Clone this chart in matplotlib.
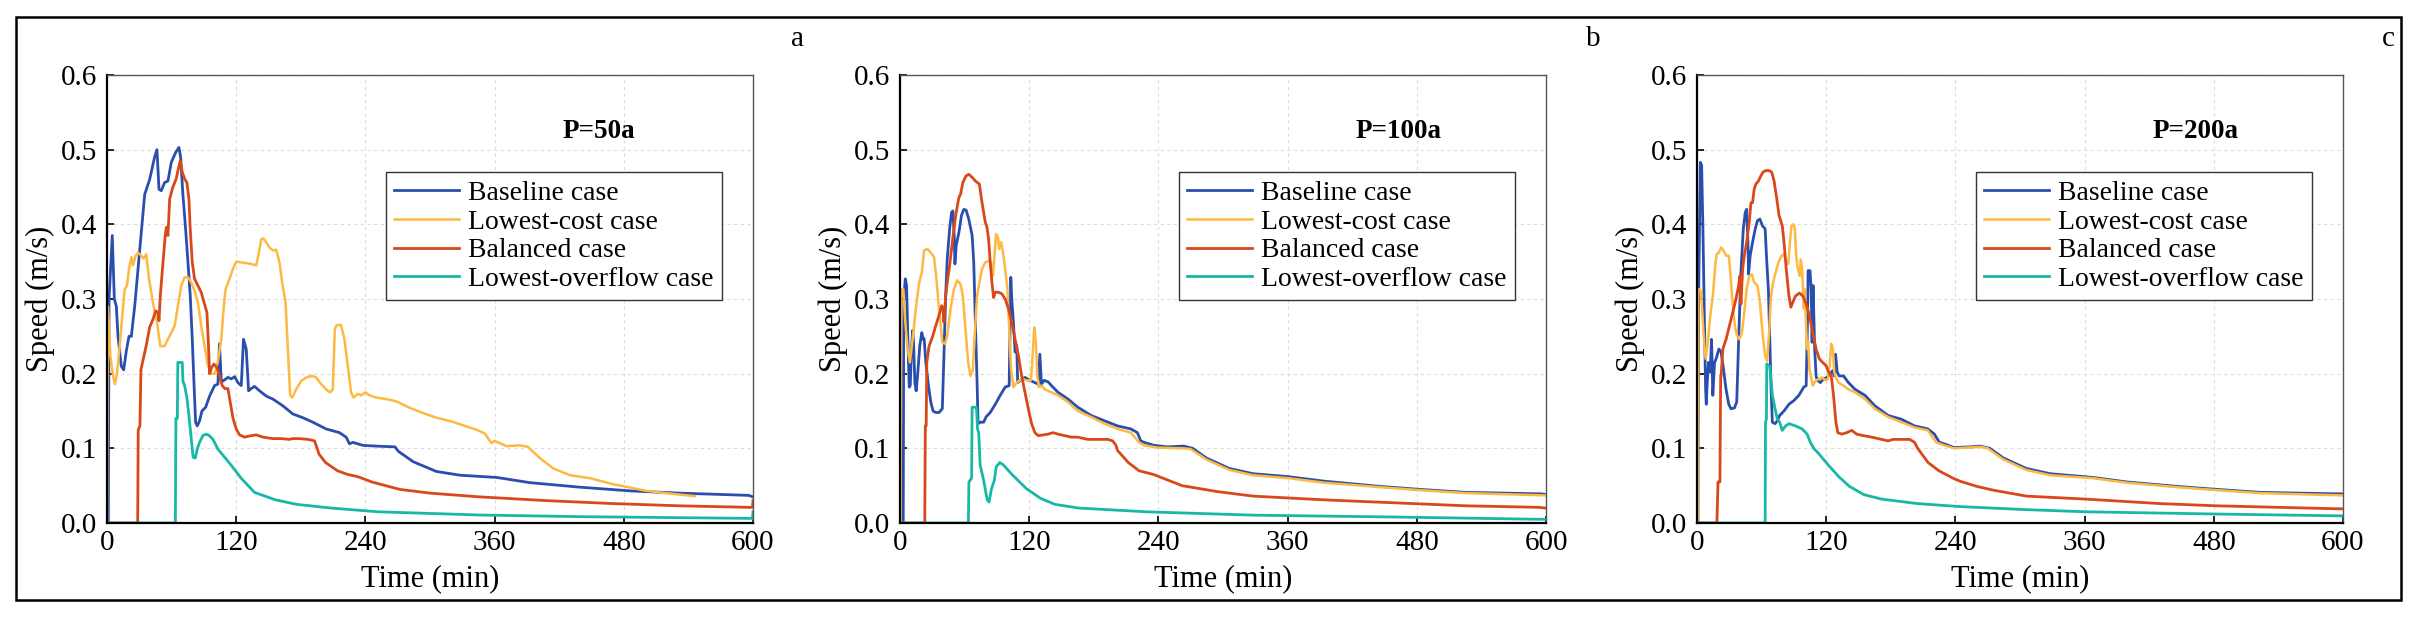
import matplotlib
matplotlib.use("Agg")
import matplotlib.pyplot as plt
from matplotlib.patches import Rectangle

plt.rcParams['font.family'] = ['Liberation Serif', 'DejaVu Serif']

# (time in min, speed in m/s)
p50_baseline = [(0, 0), (1.2, 0), (1.9, 0.30), (4.9, 0.385), (6.8, 0.30), (8.7, 0.29), (10.2, 0.25), (13.3, 0.21),
                (15.5, 0.205), (17.9, 0.23), (20.4, 0.25), (22.6, 0.25), (25.7, 0.29), (28.8, 0.34), (31.9, 0.39),
                (35.0, 0.44), (39.6, 0.46), (44.2, 0.49), (46.4, 0.50), (48.3, 0.447), (50.4, 0.445), (53.5, 0.456),
                (56.6, 0.458), (59.7, 0.483), (63.7, 0.496), (66.8, 0.503), (68.4, 0.49), (70.5, 0.44), (73.0, 0.394),
                (75.2, 0.349), (77.3, 0.305), (79.2, 0.246), (81.0, 0.18), (82.3, 0.135), (83.8, 0.13), (86.0, 0.137),
                (88.2, 0.15), (91.6, 0.155), (95.3, 0.17), (99.9, 0.184), (103.0, 0.186), (104.5, 0.24), (106.1, 0.19),
                (107.6, 0.19), (112.3, 0.195), (115.4, 0.193), (118.5, 0.196), (121.6, 0.188), (124.7, 0.184),
                (126.8, 0.246), (129.3, 0.233), (131.5, 0.177), (133.9, 0.18), (137.0, 0.183), (141.7, 0.177),
                (147.9, 0.17), (154.0, 0.166), (163.3, 0.157), (172.6, 0.146), (181.9, 0.141), (191.2, 0.135),
                (203.5, 0.126), (215.9, 0.121), (222.1, 0.115), (225.2, 0.106), (228.3, 0.108), (237.5, 0.104),
                (249.9, 0.103), (267.5, 0.102), (270.6, 0.096), (284.5, 0.082), (306, 0.069), (328, 0.064),
                (362, 0.061), (393, 0.054), (439, 0.048), (486, 0.043), (532, 0.040), (596, 0.037), (600, 0.035)]
p50_lowcost = [(0, 0), (0.9, 0.29), (3.1, 0.224), (5.6, 0.197), (7.4, 0.186), (9.3, 0.2), (11.8, 0.237), (14.2, 0.278),
               (16.4, 0.313), (18.6, 0.318), (20.4, 0.34), (22.6, 0.356), (24.1, 0.345), (26.6, 0.358), (28.8, 0.362),
               (31.9, 0.358), (34.0, 0.354), (36.5, 0.36), (39.0, 0.327), (42.7, 0.295), (46.4, 0.269), (49.5, 0.237),
               (53.5, 0.237), (56.6, 0.246), (59.7, 0.255), (62.8, 0.264), (65.9, 0.291), (69.0, 0.318), (72.1, 0.329),
               (75.2, 0.329), (78.3, 0.322), (81.3, 0.311), (84.4, 0.296), (87.5, 0.264), (90.6, 0.238), (93.7, 0.211),
               (96.8, 0.2), (99.9, 0.2), (103.0, 0.216), (106.1, 0.246), (108.3, 0.287), (110.1, 0.313), (113.8, 0.327),
               (116.9, 0.34), (120.0, 0.35), (124.7, 0.349), (129.3, 0.348), (133.9, 0.347), (138.6, 0.345),
               (141.0, 0.362), (143.2, 0.38), (145.4, 0.381), (147.9, 0.376), (150.9, 0.369), (154.0, 0.365),
               (157.1, 0.366), (160.2, 0.349), (162.7, 0.322), (165.8, 0.296), (168.0, 0.233), (170.1, 0.171),
               (172.0, 0.168), (175.7, 0.179), (180.3, 0.19), (185.0, 0.195), (190.5, 0.197), (194.2, 0.195),
               (198.9, 0.186), (203.5, 0.179), (207.2, 0.175), (209.7, 0.179), (211.6, 0.26), (213.4, 0.265),
               (217.4, 0.265), (220.5, 0.246), (223.6, 0.211), (226.7, 0.175), (228.9, 0.168), (232.9, 0.173),
               (236.0, 0.171), (240.0, 0.175), (243.7, 0.171), (249.9, 0.168), (259.2, 0.166), (268.5, 0.163),
               (280, 0.155), (294, 0.147), (306, 0.141), (320, 0.136), (343, 0.125), (350.8, 0.12), (357, 0.107),
               (360, 0.11), (371, 0.103), (383.6, 0.104), (391, 0.102), (402, 0.087), (414.6, 0.073), (430, 0.064),
               (448.6, 0.06), (470, 0.052), (501, 0.043), (532, 0.038), (546, 0.036)]
p50_balanced = [(0, 0), (28.5, 0), (29.0, 0.125), (30.6, 0.13), (31.5, 0.205), (31.9, 0.208), (36.5, 0.238),
                (39.6, 0.262), (42.7, 0.273), (45.2, 0.284), (47.3, 0.282), (48.3, 0.271), (49.5, 0.304), (52.0, 0.349),
                (54.1, 0.385), (55.1, 0.396), (56.6, 0.385), (58.2, 0.434), (61.2, 0.45), (64.3, 0.461), (65.9, 0.472),
                (68.0, 0.485), (69.9, 0.47), (72.1, 0.461), (74.2, 0.456), (76.1, 0.434), (77.3, 0.394), (79.2, 0.349),
                (81.3, 0.327), (84.4, 0.318), (87.5, 0.309), (90.6, 0.293), (92.8, 0.282), (94.0, 0.246), (95.3, 0.2),
                (97.1, 0.208), (99.3, 0.213), (102.1, 0.208), (104.5, 0.197), (107.0, 0.184), (109.5, 0.18),
                (112.3, 0.18), (114.8, 0.159), (116.9, 0.141), (120.0, 0.126), (123.1, 0.118), (127.7, 0.115),
                (133.9, 0.117), (138.6, 0.118), (144.8, 0.115), (154.0, 0.113), (161.8, 0.113), (169.5, 0.112),
                (172.6, 0.113), (178.8, 0.113), (186.5, 0.112), (192.7, 0.110), (194.9, 0.101), (197, 0.092),
                (203, 0.081), (214, 0.07), (223.6, 0.065), (233, 0.062), (246, 0.055), (253.6, 0.052), (272, 0.045),
                (300, 0.04), (346, 0.035), (408, 0.03), (470, 0.026), (532, 0.023), (596, 0.021), (599.5, 0.021),
                (600, 0.03)]
p50_lowoverflow = [(0, 0), (63.5, 0), (64.0, 0.14), (65.3, 0.14), (65.8, 0.215), (69.9, 0.215), (70.5, 0.19),
                   (72.1, 0.184), (74.2, 0.168), (76.1, 0.144), (78.3, 0.112), (80.0, 0.088), (82.0, 0.087),
                   (84.0, 0.1), (86.0, 0.108), (89.0, 0.117), (92.2, 0.119), (95.0, 0.117), (98.4, 0.112),
                   (103.0, 0.099), (115, 0.078), (124.6, 0.06), (137, 0.041), (156.5, 0.031), (176, 0.025),
                   (208, 0.02), (252, 0.015), (346, 0.0107), (439, 0.0085), (596, 0.0062), (599.5, 0.0062),
                   (600, 0.015)]

p100_baseline = [(0, 0), (3.0, 0), (3.5, 0.3), (4.9, 0.327), (6.1, 0.318), (7.7, 0.224), (8.6, 0.182), (9.5, 0.184),
                 (10.7, 0.233), (11.7, 0.258), (12.6, 0.242), (13.8, 0.188), (15.0, 0.177), (16.3, 0.197),
                 (18.4, 0.238), (20.3, 0.255), (21.5, 0.246), (22.4, 0.247), (24.0, 0.215), (26.4, 0.184),
                 (28.6, 0.162), (30.7, 0.150), (33.2, 0.148), (36.2, 0.148), (39.3, 0.153), (40.8, 0.224),
                 (42.4, 0.304), (43.9, 0.354), (46.1, 0.394), (47.9, 0.416), (49.1, 0.418), (50.4, 0.384),
                 (51.0, 0.347), (52.2, 0.372), (54.7, 0.389), (57.1, 0.412), (59.3, 0.42), (61.4, 0.419),
                 (63.9, 0.407), (67.0, 0.385), (68.5, 0.349), (70.0, 0.269), (71.6, 0.188), (72.5, 0.133),
                 (74.6, 0.135), (77.7, 0.135), (79.9, 0.142), (83.8, 0.148), (88.5, 0.159), (93.1, 0.171),
                 (97.7, 0.182), (101.4, 0.184), (102.9, 0.329), (103.8, 0.30), (105.3, 0.269), (106.9, 0.229),
                 (108.4, 0.238), (109.3, 0.188), (111.5, 0.191), (116.1, 0.195), (120.7, 0.191), (125.3, 0.188),
                 (128.4, 0.186), (129.9, 0.226), (131.4, 0.186), (133.9, 0.191), (137.6, 0.189), (140.7, 0.184),
                 (146.8, 0.175), (156.0, 0.166), (165.2, 0.155), (177.5, 0.144), (189.8, 0.137), (202.1, 0.130),
                 (214.4, 0.126), (220.5, 0.121), (223.6, 0.110), (226.7, 0.108), (235.9, 0.104), (248.2, 0.102),
                 (263.5, 0.103), (271.8, 0.1), (284.6, 0.087), (306, 0.073), (328, 0.066), (361, 0.062),
                 (394, 0.056), (446, 0.049), (483, 0.045), (526, 0.041), (596, 0.039), (600, 0.038)]
p100_lowcost = [(0, 0), (0.6, 0), (1.0, 0.313), (3.1, 0.313), (4.9, 0.269), (7.1, 0.233), (9.2, 0.215),
                (11.7, 0.246), (14.7, 0.287), (17.8, 0.322), (20.3, 0.336), (22.4, 0.365), (25.5, 0.367),
                (28.6, 0.362), (31.6, 0.356), (33.2, 0.336), (34.7, 0.313), (36.2, 0.287), (37.8, 0.264),
                (39.3, 0.242), (41.8, 0.24), (43.9, 0.251), (47.0, 0.287), (50.1, 0.313), (53.1, 0.325), (56.2, 0.32),
                (58.4, 0.304), (60.8, 0.26), (63.3, 0.215), (65.4, 0.197), (67.6, 0.204), (69.4, 0.251),
                (71.6, 0.304), (73.7, 0.322), (76.2, 0.34), (79.2, 0.349), (82.3, 0.351), (84.5, 0.349),
                (86.3, 0.331), (87.8, 0.358), (89.1, 0.387), (90.9, 0.383), (92.1, 0.367), (94.0, 0.376),
                (96.1, 0.358), (97.7, 0.34), (99.8, 0.313), (101.4, 0.26), (103.2, 0.206), (105.3, 0.182),
                (107.5, 0.186), (109.9, 0.19), (113.6, 0.193), (117.6, 0.191), (121.6, 0.191), (123.2, 0.224),
                (124.7, 0.262), (126.2, 0.242), (127.5, 0.197), (129.0, 0.182), (131.4, 0.184), (134.5, 0.179),
                (140.7, 0.175), (146.8, 0.171), (156.0, 0.162), (165.2, 0.150), (177.5, 0.142), (189.8, 0.133),
                (202.1, 0.126), (214.4, 0.121), (222.1, 0.108), (226.7, 0.104), (238.9, 0.101), (263.5, 0.1),
                (270, 0.099), (284.6, 0.085), (306, 0.071), (328, 0.064), (361, 0.06), (394, 0.054), (446, 0.048),
                (483, 0.044), (526, 0.04), (600, 0.037)]
p100_balanced = [(0, 0), (23.0, 0), (23.5, 0.13), (24.3, 0.13), (24.9, 0.215), (27.0, 0.237), (30.1, 0.249),
                 (33.2, 0.264), (36.2, 0.278), (38.7, 0.291), (39.9, 0.287), (40.8, 0.269), (42.4, 0.304),
                 (43.9, 0.322), (46.1, 0.345), (47.9, 0.367), (50.1, 0.394), (52.2, 0.416), (54.7, 0.436),
                 (56.2, 0.44), (58.4, 0.456), (61.4, 0.465), (63.9, 0.467), (67.0, 0.463), (70.0, 0.458),
                 (73.7, 0.454), (76.2, 0.429), (79.2, 0.403), (80.8, 0.396), (82.3, 0.38), (83.8, 0.349),
                 (85.4, 0.322), (86.9, 0.302), (88.5, 0.309), (91.5, 0.309), (94.6, 0.307), (97.7, 0.3),
                 (100.7, 0.287), (103.8, 0.269), (106.9, 0.246), (110.0, 0.224), (113.0, 0.197), (116.1, 0.175),
                 (119.2, 0.153), (122.2, 0.133), (125.3, 0.121), (128.4, 0.117), (133.0, 0.118), (137.6, 0.119),
                 (142.2, 0.121), (146.8, 0.119), (152.9, 0.117), (159.1, 0.115), (165.2, 0.115), (174.4, 0.112),
                 (183.7, 0.112), (192.9, 0.112), (197.5, 0.110), (200.6, 0.104), (202.1, 0.097), (204, 0.094),
                 (212, 0.081), (222, 0.07), (235.4, 0.065), (262, 0.05), (295, 0.042), (328, 0.036), (394, 0.031),
                 (460, 0.027), (526, 0.023), (592.6, 0.021), (600, 0.02)]
p100_lowoverflow = [(0, 0), (63.5, 0), (64.0, 0.055), (66.5, 0.06), (67.0, 0.155), (71.0, 0.155), (72.0, 0.126),
                    (73.1, 0.121), (74.4, 0.078), (77.7, 0.057), (81.0, 0.031), (82.7, 0.028), (85.0, 0.046),
                    (87.6, 0.057), (89.3, 0.075), (92.6, 0.081), (95.9, 0.078), (104, 0.065), (117.4, 0.046),
                    (130.6, 0.033), (143.9, 0.025), (166, 0.02), (228.8, 0.015), (328, 0.0105), (460, 0.008),
                    (592.6, 0.005), (600, 0.005)]

p200_baseline = [(0, 0), (0.9, 0), (1.5, 0.3), (3.1, 0.483), (4.3, 0.479), (5.5, 0.394), (6.8, 0.278), (8.0, 0.179),
                 (8.6, 0.159), (9.5, 0.188), (10.7, 0.215), (12.3, 0.202), (13.5, 0.246), (14.7, 0.171),
                 (16.3, 0.215), (17.8, 0.22), (20.3, 0.233), (22.4, 0.229), (24.6, 0.206), (27.0, 0.179),
                 (29.5, 0.159), (31.6, 0.153), (34.7, 0.154), (36.9, 0.162), (38.7, 0.246), (40.8, 0.336),
                 (43.0, 0.394), (44.8, 0.416), (46.1, 0.42), (47.3, 0.376), (47.9, 0.333), (49.4, 0.358),
                 (51.6, 0.376), (54.1, 0.394), (56.2, 0.405), (58.4, 0.407), (60.8, 0.398), (63.3, 0.394),
                 (64.5, 0.358), (66.3, 0.313), (67.6, 0.246), (68.8, 0.179), (70.0, 0.135), (72.5, 0.133),
                 (74.6, 0.137), (76.8, 0.144), (80.8, 0.15), (85.4, 0.159), (90.0, 0.164), (94.6, 0.171),
                 (99.2, 0.182), (101.4, 0.184), (102.6, 0.269), (103.2, 0.338), (105.0, 0.338), (106.0, 0.313),
                 (106.9, 0.242), (107.8, 0.318), (109.3, 0.233), (110.6, 0.197), (111.8, 0.191), (114.6, 0.188),
                 (117.6, 0.193), (120.7, 0.195), (123.8, 0.2), (125.9, 0.204), (127.5, 0.197), (128.7, 0.226),
                 (130.2, 0.202), (132.1, 0.197), (136.1, 0.197), (140.7, 0.188), (146.8, 0.179), (156.0, 0.171),
                 (165.2, 0.157), (177.5, 0.144), (189.8, 0.139), (202.1, 0.130), (214.4, 0.126), (220.5, 0.119),
                 (225.1, 0.108), (229.7, 0.106), (238.9, 0.101), (254.3, 0.102), (262.9, 0.103), (272, 0.1),
                 (284.6, 0.087), (306, 0.073), (328, 0.066), (368, 0.061), (399, 0.055), (446, 0.049), (483, 0.045),
                 (523.6, 0.041), (596.4, 0.039), (600, 0.039)]
p200_lowcost = [(0, 0), (0.9, 0), (1.2, 0.313), (2.5, 0.313), (3.7, 0.31), (4.9, 0.282), (6.8, 0.238), (8.0, 0.22),
                (10.1, 0.242), (12.3, 0.278), (14.7, 0.304), (17.2, 0.349), (18.4, 0.36), (20.3, 0.362),
                (22.4, 0.369), (24.6, 0.365), (27.0, 0.358), (29.5, 0.358), (30.7, 0.34), (32.6, 0.304),
                (34.1, 0.278), (35.6, 0.26), (37.2, 0.251), (39.3, 0.246), (41.8, 0.255), (43.9, 0.282),
                (46.1, 0.313), (48.5, 0.331), (51.0, 0.333), (53.1, 0.322), (56.2, 0.318), (58.4, 0.296),
                (60.8, 0.255), (63.3, 0.224), (65.1, 0.217), (67.0, 0.255), (68.5, 0.3), (70.6, 0.322),
                (73.1, 0.336), (75.6, 0.349), (78.6, 0.358), (80.8, 0.36), (82.9, 0.349), (84.8, 0.347),
                (86.3, 0.376), (87.8, 0.398), (89.7, 0.4), (90.9, 0.394), (92.1, 0.358), (93.7, 0.34), (95.5, 0.331),
                (96.4, 0.353), (97.7, 0.34), (99.2, 0.287), (100.1, 0.313), (101.4, 0.26), (102.3, 0.233),
                (103.2, 0.243), (104.4, 0.206), (105.7, 0.197), (107.5, 0.184), (110.0, 0.19), (113.0, 0.193),
                (116.1, 0.195), (119.2, 0.191), (121.6, 0.193), (123.2, 0.211), (124.7, 0.24), (126.2, 0.233),
                (127.5, 0.202), (129.0, 0.195), (131.4, 0.188), (136.1, 0.184), (140.7, 0.179), (146.8, 0.175),
                (156.0, 0.166), (165.2, 0.153), (177.5, 0.142), (189.8, 0.135), (202.1, 0.128), (214.4, 0.124),
                (222.1, 0.108), (229.7, 0.104), (238.9, 0.1), (263.5, 0.102), (270, 0.1), (284.6, 0.085),
                (306, 0.071), (328, 0.064), (368, 0.06), (399, 0.054), (446, 0.048), (483, 0.044), (523.6, 0.04),
                (600, 0.037)]
p200_balanced = [(0, 0), (18.5, 0), (19.5, 0.055), (21.3, 0.055), (22.0, 0.197), (22.4, 0.197), (24.0, 0.233),
                 (27.0, 0.246), (30.1, 0.264), (33.2, 0.282), (36.2, 0.3), (38.7, 0.318), (39.9, 0.331),
                 (40.8, 0.293), (42.4, 0.34), (43.9, 0.358), (46.1, 0.376), (48.5, 0.403), (50.1, 0.429),
                 (51.6, 0.429), (53.1, 0.447), (54.7, 0.454), (57.1, 0.458), (59.3, 0.465), (61.4, 0.47),
                 (63.9, 0.472), (67.0, 0.472), (69.4, 0.47), (71.6, 0.458), (73.7, 0.438), (76.2, 0.412),
                 (79.2, 0.398), (80.8, 0.376), (82.9, 0.34), (85.4, 0.304), (87.2, 0.289), (89.1, 0.296),
                 (91.5, 0.304), (95.2, 0.308), (98.3, 0.304), (101.4, 0.293), (104.4, 0.278), (107.5, 0.255),
                 (110.6, 0.233), (113.6, 0.22), (116.7, 0.215), (119.8, 0.211), (122.2, 0.202), (124.7, 0.197),
                 (126.8, 0.171), (129.0, 0.135), (130.8, 0.121), (134.5, 0.119), (139.1, 0.121), (143.7, 0.124),
                 (148.3, 0.119), (154.5, 0.117), (162.2, 0.115), (171.4, 0.112), (177.5, 0.110), (182.1, 0.112),
                 (189.8, 0.112), (197.5, 0.112), (202.1, 0.108), (205, 0.1), (208, 0.094), (214.6, 0.081),
                 (224.6, 0.07), (237.8, 0.06), (244.3, 0.056), (260, 0.049), (275, 0.044), (306, 0.036),
                 (361, 0.032), (430, 0.026), (483, 0.023), (596, 0.019), (600, 0.019)]
p200_lowoverflow = [(0, 0), (63.3, 0), (63.6, 0.135), (64.5, 0.139), (64.8, 0.213), (67.6, 0.21), (70.0, 0.171),
                    (72.5, 0.153), (74.6, 0.139), (76.8, 0.135), (79.2, 0.124), (82.3, 0.13), (85.4, 0.133),
                    (91.5, 0.13), (97.7, 0.126), (102.3, 0.119), (105.3, 0.108), (108.4, 0.1), (113, 0.093),
                    (121.7, 0.078), (131.7, 0.062), (141.6, 0.049), (155, 0.038), (171.5, 0.032), (204.7, 0.026),
                    (244, 0.022), (304, 0.018), (361, 0.015), (483, 0.012), (596, 0.0096), (600, 0.0096)]

case_names = ['Baseline case', 'Lowest-cost case', 'Balanced case', 'Lowest-overflow case']
case_colors = ['#2a4ead', '#fdb941', '#d9481b', '#17b8a6']
case_widths = [2.0, 1.8, 2.0, 2.0]
panel_titles = ['P=50a', 'P=100a', 'P=200a']
panel_letters = ['a', 'b', 'c']
panels = [
    [p50_baseline, p50_lowcost, p50_balanced, p50_lowoverflow],
    [p100_baseline, p100_lowcost, p100_balanced, p100_lowoverflow],
    [p200_baseline, p200_lowcost, p200_balanced, p200_lowoverflow],
]

W, H = 2416, 617
fig = plt.figure(figsize=(W / 100, H / 100), dpi=100)

# outer frame around all three panels
fig.patches.append(Rectangle((16 / W, 1 - 600 / H), 2385 / W, 583 / H, transform=fig.transFigure,
                             fill=False, edgecolor='black', linewidth=1.8))

lefts = [107, 900, 1697]
letter_x = [798, 1593, 2388]
for i, series in enumerate(panels):
    ax = fig.add_axes([lefts[i] / W, 1 - 523 / H, 646 / W, 448 / H])
    for data, name, col, lw in zip(series, case_names, case_colors, case_widths):
        t = [p[0] for p in data]
        v = [p[1] for p in data]
        ax.plot(t, v, color=col, lw=lw, label=name, solid_joinstyle='round')

    ax.set_xlim(0, 600)
    ax.set_ylim(0, 0.6)
    ax.set_xticks([0, 120, 240, 360, 480, 600])
    ax.set_yticks([0.0, 0.1, 0.2, 0.3, 0.4, 0.5, 0.6])
    ax.set_yticklabels(['0.0', '0.1', '0.2', '0.3', '0.4', '0.5', '0.6'])
    ax.grid(True, color='#dcdcdc', linestyle=(0, (3, 3)), linewidth=0.8)
    ax.set_axisbelow(True)
    ax.tick_params(axis='both', direction='in', length=5, width=1.2, labelsize=21, color='black')
    ax.tick_params(axis='y', pad=7)
    ax.tick_params(axis='x', pad=5)
    for s in ['left', 'bottom']:
        ax.spines[s].set_linewidth(1.6)
        ax.spines[s].set_color('black')
    for s in ['top', 'right']:
        ax.spines[s].set_linewidth(1.0)
        ax.spines[s].set_color('#555555')

    ax.set_xlabel('Time (min)', fontsize=22)
    ax.set_ylabel('Speed (m/s)', fontsize=22)
    ax.xaxis.label.set_va('center')
    ax.xaxis.set_label_coords(0.5, -0.124)
    ax.yaxis.label.set_va('center')
    ax.yaxis.set_label_coords(-0.104, 0.5)

    ax.text(423, 0.525, panel_titles[i], fontsize=19.5, fontweight='bold', ha='left', va='center')

    leg = ax.legend(loc='upper left', bbox_to_anchor=(0.432, 0.7835), borderaxespad=0, fontsize=20,
                    frameon=True, fancybox=False, framealpha=1, edgecolor='#333333', borderpad=0.3,
                    handlelength=2.34, handletextpad=0.3, labelspacing=0.12)
    leg.get_frame().set_linewidth(1.0)

    fig.text(letter_x[i] / W, 1 - 39 / H, panel_letters[i], fontsize=21, ha='center', va='center')

fig.savefig('out.png', dpi=100)
